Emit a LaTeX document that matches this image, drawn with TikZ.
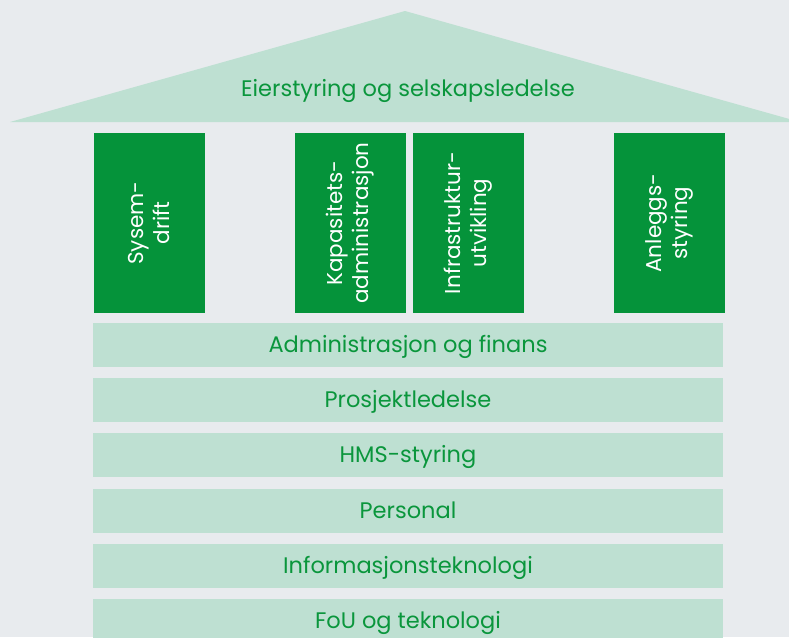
\documentclass[tikz,border=0pt]{standalone}
\usepackage{fontspec}
\setmainfont{Poppins}
\definecolor{bgGrey}{HTML}{E8EBEE}
\definecolor{lightGreen}{HTML}{BEE0D2}
\definecolor{darkGreen}{HTML}{05933A}
\definecolor{textGreen}{HTML}{0A963C}
\tikzset{
  roof/.style={fill=lightGreen},
  pillar/.style={fill=darkGreen, text=white, rotate=90, align=center,
    minimum width=180pt, minimum height=111pt, inner sep=0pt,
    font=\fontsize{21.5}{26}\selectfont},
  bar/.style={fill=lightGreen, text=textGreen, minimum width=630pt,
    minimum height=44pt, inner sep=0pt, text height=15.5pt, text depth=0pt,
    font=\fontsize{22.5}{26}\selectfont},
}
\begin{document}
\begin{tikzpicture}[x=1pt,y=-1pt]
\clip (0,0) rectangle (789,637);
\fill[bgGrey] (0,0) rectangle (789,637);
\fill[roof] (10,122) -- (405,11) -- (800,122) -- cycle;
\node[text=textGreen, inner sep=0pt, text height=15.5pt, text depth=0pt,
  font=\fontsize{22.5}{26}\selectfont] (eier) at (408,88.5) {Eierstyring og selskapsledelse};
\node[pillar] (sys) at (149.5,223) {Sysem-\\drift};
\node[pillar] (kap) at (350.5,223) {Kapasitets-\\administrasjon};
\node[pillar] (infra) at (468.5,223) {Infrastruktur-\\utvikling};
\node[pillar] (anl) at (669.5,223) {Anleggs-\\styring};
\node[bar] (adm) at (408,345) {Administrasjon og finans};
\node[bar] (pro) at (408,400) {Prosjektledelse};
\node[bar] (hms) at (408,455) {HMS-styring};
\node[bar] (pers) at (408,511) {Personal};
\node[bar] (it) at (408,566) {Informasjonsteknologi};
\node[bar] (fou) at (408,621) {FoU og teknologi};
\end{tikzpicture}
\end{document}
